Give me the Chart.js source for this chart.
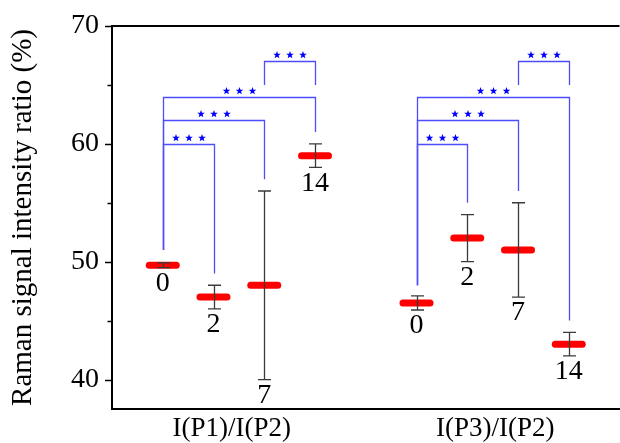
<!DOCTYPE html>
<html>
<head>
<meta charset="utf-8">
<script src="https://cdn.jsdelivr.net/npm/chart.js@4.4.1/dist/chart.umd.min.js"></script>
<style>
  html, body { margin: 0; padding: 0; background: #fff; overflow: hidden; }
  #wrap { width: 620px; height: 443px; overflow: hidden; }
</style>
</head>
<body>
<div id="wrap"><canvas id="chart" width="640" height="443"></canvas></div>
<script>
// Data
const groupNames = ['I(P1)/I(P2)', 'I(P3)/I(P2)'];
const groupCenters = [2.36, 7.55];
const dayLabels = ['0', '2', '7', '14'];
const xP1 = [1, 2, 3, 4];
const xP3 = [6, 7, 8, 9];
const ratioP1 = [49.7, 47, 48, 59];
const errP1 = [0.2, 1, 8, 1];
const ratioP3 = [46.5, 52, 51, 43];
const errP3 = [0.6, 2, 4, 1];
const yTickValues = [40, 45, 50, 55, 60, 65, 70];

// significance brackets (index pairs into the day arrays)
const bracketPairs = [[0, 1], [0, 2], [0, 3], [2, 3]];
const bracketLevelsP1 = [60, 62, 64, 67];
const bracketLevelsP3 = [60, 62, 64, 67];
const legEndsP1 = [[51, 49], [51, 57], [51, 61], [65, 65]];
const legEndsP3 = [[48, 55], [48, 56], [48, 45], [65, 65]];
const sigStars = 3;

const serif = "'Liberation Serif', 'Times New Roman', serif";

function drawStar(ctx, cx, cy, r) {
    ctx.beginPath();
    for (let i = 0; i < 10; i++) {
        const rad = i % 2 === 0 ? r : r * 0.42;
        const a = -Math.PI / 2 + i * Math.PI / 5;
        const px = cx + rad * Math.cos(a);
        const py = cy + rad * Math.sin(a);
        if (i === 0) ctx.moveTo(px, py); else ctx.lineTo(px, py);
    }
    ctx.closePath();
    ctx.fill();
}

const overlay = {
    id: 'overlay',
    beforeDatasetDraw(chart) {
        chart.ctx.lineCap = 'round';
    },
    afterDatasetDraw(chart) {
        chart.ctx.lineCap = 'butt';
    },
    afterDraw(chart) {
        const { ctx, chartArea, scales: { x, y } } = chart;
        ctx.save();

        // top frame line
        ctx.strokeStyle = '#000';
        ctx.lineWidth = 2;
        ctx.beginPath();
        ctx.moveTo(chartArea.left - 1, chartArea.top);
        ctx.lineTo(chartArea.right, chartArea.top);
        ctx.stroke();

        // y tick marks (outside), major and minor
        ctx.lineWidth = 1.5;
        y.ticks.forEach(t => {
            const py = Math.round(y.getPixelForValue(t.value)) + 0.5;
            const len = t.value % 10 === 0 ? 6 : 3.5;
            ctx.beginPath();
            ctx.moveTo(chartArea.left - len - 1, py);
            ctx.lineTo(chartArea.left, py);
            ctx.stroke();
        });

        const groups = [
            { xs: xP1, vals: ratioP1, errs: errP1, levels: bracketLevelsP1, legs: legEndsP1 },
            { xs: xP3, vals: ratioP3, errs: errP3, levels: bracketLevelsP3, legs: legEndsP3 }
        ];

        groups.forEach(g => {
            // error bars
            ctx.strokeStyle = '#3a3a3a';
            ctx.lineWidth = 1.3;
            g.xs.forEach((xv, i) => {
                const px = Math.round(x.getPixelForValue(xv)) + 0.5;
                const top = y.getPixelForValue(g.vals[i] + g.errs[i]);
                const bot = y.getPixelForValue(g.vals[i] - g.errs[i]);
                ctx.beginPath();
                ctx.moveTo(px, top); ctx.lineTo(px, bot);
                ctx.moveTo(px - 6.5, top); ctx.lineTo(px + 6.5, top);
                ctx.moveTo(px - 6.5, bot); ctx.lineTo(px + 6.5, bot);
                ctx.stroke();
            });

            // day labels under the error bars
            ctx.fillStyle = '#000';
            ctx.font = '28px ' + serif;
            ctx.textAlign = 'center';
            ctx.textBaseline = 'middle';
            g.xs.forEach((xv, i) => {
                const px = x.getPixelForValue(xv);
                const bot = y.getPixelForValue(g.vals[i] - g.errs[i]);
                ctx.fillText(dayLabels[i], px, bot + 16);
            });

            // significance brackets
            bracketPairs.forEach((pair, k) => {
                const x1 = Math.round(x.getPixelForValue(g.xs[pair[0]])) + 0.5;
                const x2 = Math.round(x.getPixelForValue(g.xs[pair[1]])) + 0.5;
                const by = Math.round(y.getPixelForValue(g.levels[k])) + 0.5;
                ctx.strokeStyle = '#4d4dff';
                ctx.lineWidth = 1.3;
                ctx.beginPath();
                ctx.moveTo(x1, y.getPixelForValue(g.legs[k][0]));
                ctx.lineTo(x1, by);
                ctx.lineTo(x2, by);
                ctx.lineTo(x2, y.getPixelForValue(g.legs[k][1]));
                ctx.stroke();

                ctx.fillStyle = '#0000ff';
                const cx = (x1 + x2) / 2;
                for (let s = 0; s < sigStars; s++) {
                    drawStar(ctx, cx + (s - (sigStars - 1) / 2) * 13, by - 6.5, 4);
                }
            });
        });
        ctx.restore();
    }
};

const points = xP1.map((v, i) => ({ x: v, y: ratioP1[i] }))
    .concat(xP3.map((v, i) => ({ x: v, y: ratioP3[i] })));

new Chart(document.getElementById('chart'), {
    type: 'scatter',
    data: {
        datasets: [{
            label: 'ratio',
            data: points,
            pointStyle: 'line',
            radius: 13.5,
            hoverRadius: 13.5,
            borderWidth: 7,
            hoverBorderWidth: 7,
            borderColor: '#ff0000',
            backgroundColor: '#ff0000'
        }]
    },
    options: {
        responsive: false,
        animation: false,
        events: [],
        layout: { padding: { top: 26, right: 8, left: 0, bottom: 0 } },
        plugins: {
            legend: { display: false },
            tooltip: { enabled: false }
        },
        scales: {
            x: {
                type: 'linear',
                min: 0,
                max: 10,
                afterBuildTicks: scale => {
                    scale.ticks = groupCenters.map(v => ({ value: v }));
                },
                afterFit: scale => { scale.height = 34; },
                grid: { display: false },
                border: { display: true, color: '#000', width: 2 },
                ticks: {
                    autoSkip: false,
                    maxRotation: 0,
                    padding: -4,
                    color: '#000',
                    font: { family: serif, size: 27 },
                    callback: v => groupNames[groupCenters.indexOf(v)]
                }
            },
            y: {
                min: 37.5,
                max: 70,
                afterBuildTicks: scale => {
                    scale.ticks = yTickValues.map(v => ({ value: v }));
                },
                afterFit: scale => { scale.width = 112; },
                grid: { display: false },
                border: { display: true, color: '#000', width: 2 },
                ticks: {
                    padding: 5,
                    color: '#000',
                    font: { family: serif, size: 28 },
                    callback: v => (v % 10 === 0 ? String(v) : '')
                },
                title: {
                    display: true,
                    text: 'Raman signal intensity ratio (%)',
                    color: '#000',
                    font: { family: serif, size: 29 },
                    padding: { top: 6, bottom: 0 }
                }
            }
        }
    },
    plugins: [overlay]
});
</script>
</body>
</html>
